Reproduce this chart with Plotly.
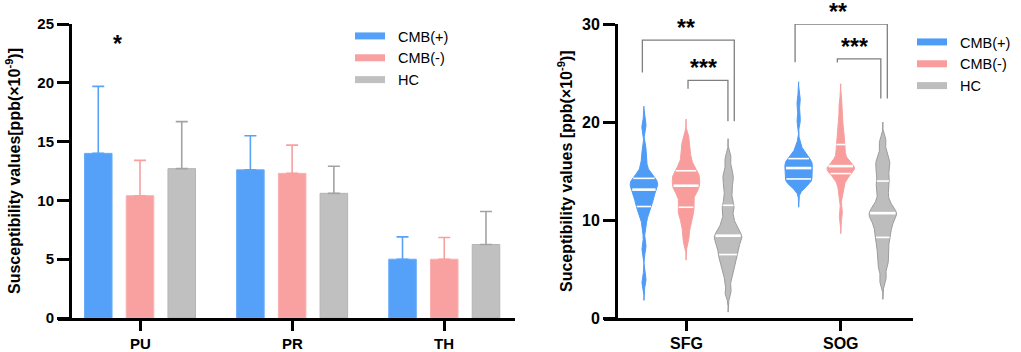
import numpy as np
import plotly.graph_objects as go

# ---------------- data ----------------
regions = ["PU", "PR", "TH"]
groups = ["CMB(+)", "CMB(-)", "HC"]
bar_mean = {
    "CMB(+)": [14.0, 12.6, 5.0],
    "CMB(-)": [10.4, 12.3, 5.0],
    "HC": [12.7, 10.6, 6.25],
}
bar_sd = {
    "CMB(+)": [5.7, 2.9, 1.9],
    "CMB(-)": [3.0, 2.4, 1.85],
    "HC": [4.0, 2.3, 2.8],
}

violin_regions = ["SFG", "SOG"]
sfg_cmb_pos = [3.8, 7.2, 9.2, 10.3, 10.9, 11.3, 11.6, 11.9, 12.2, 12.5, 12.8, 13.0,
               13.2, 13.4, 13.6, 13.8, 13.95, 14.1, 14.3, 14.6, 15.1, 16.0, 17.2, 19.6]
sfg_cmb_neg = [7.9, 9.0, 9.8, 10.4, 10.8, 11.2, 11.6, 12.1, 12.6, 12.9, 13.2, 13.4,
               13.6, 13.9, 14.1, 14.4, 14.6, 14.8, 15.1, 15.5, 16.0, 16.7, 17.5, 18.3]
sfg_hc = [2.6, 4.0, 4.9, 5.5, 6.0, 6.4, 6.7, 7.1, 7.5, 7.8, 8.1, 8.3,
          8.5, 8.8, 9.2, 9.7, 10.3, 11.2, 11.6, 12.6, 13.6, 14.3, 15.0, 16.3]
sog_cmb_pos = [13.3, 13.6, 13.8, 13.95, 14.05, 14.15, 14.3, 14.5, 14.7, 14.9, 15.1, 15.25,
               15.35, 15.55, 15.7, 15.85, 16.0, 16.15, 16.3, 16.5, 16.9, 17.6, 20.3, 22.1]
sog_cmb_neg = [10.6, 12.6, 13.5, 14.1, 14.45, 14.7, 14.85, 15.0, 15.15, 15.3, 15.4, 15.45,
               15.55, 15.7, 16.0, 16.4, 16.9, 17.4, 17.8, 18.2, 18.8, 19.6, 20.6, 21.9]
sog_hc = [3.9, 5.2, 5.9, 6.7, 7.4, 8.1, 8.6, 9.1, 9.6, 10.0, 10.3, 10.6,
          10.8, 11.1, 11.5, 12.1, 12.9, 13.6, 14.1, 14.9, 15.5, 16.0, 16.7, 18.0]
violin_data = {
    "CMB(+)": [sfg_cmb_pos, sog_cmb_pos],
    "CMB(-)": [sfg_cmb_neg, sog_cmb_neg],
    "HC": [sfg_hc, sog_hc],
}

# ---------------- style ----------------
FONT = "Liberation Sans, Arial, sans-serif"
W, H = 1021, 352
MT, MB = 24, 34
PH = H - MT - MB
YMAX1, YMAX2 = 25, 30
fill = {"CMB(+)": "#55a0f9", "CMB(-)": "#f9a0a0", "HC": "#c0c0c0"}
edge = {"CMB(+)": "#6aacf8", "CMB(-)": "#fbb0b0", "HC": "#b4b4b4"}
errc = {"CMB(+)": "#5aa2f6", "CMB(-)": "#f7a0a0", "HC": "#a3a3a3"}
vfill = {"CMB(+)": "#4f9cf6", "CMB(-)": "#f99c9c", "HC": "#bdbdbd"}
vline = {"CMB(+)": "#4f9cf6", "CMB(-)": "#f7a0a0", "HC": "#9c9c9c"}
BRK = "#7f7f7f"


def py(px):
    """pixel row -> paper y"""
    return (H - MB - px) / PH


fig = go.Figure()

# ---------------- left: bar chart ----------------
for g in groups:
    fig.add_trace(go.Bar(
        x=regions, y=bar_mean[g], name=g, showlegend=False,
        marker=dict(color=fill[g], line=dict(color=edge[g], width=1)),
        error_y=dict(type="data", array=bar_sd[g], arrayminus=[0] * len(regions),
                     symmetric=False, color=errc[g], thickness=1.6, width=6),
        xaxis="x", yaxis="y",
    ))

# ---------------- right: violins ----------------
BW = 0.5
EXT = 4 * BW
OFF = 0.272
HW = 0.089
offsets = {"CMB(+)": -OFF, "CMB(-)": 0.0, "HC": OFF}


def kde(vals, grid):
    v = np.asarray(vals)[None, :]
    z = (grid[:, None] - v) / BW
    return np.exp(-0.5 * z ** 2).sum(axis=1)


for g in groups:
    for ri, vals in enumerate(violin_data[g]):
        c = ri + offsets[g]
        grid = np.linspace(min(vals) - EXT, max(vals) + EXT, 500)
        d = kde(vals, grid)
        dmax = d.max()
        hw = HW * d / dmax
        xs = np.concatenate([c + hw, (c - hw)[::-1]])
        ys = np.concatenate([grid, grid[::-1]])
        fig.add_trace(go.Scatter(
            x=xs, y=ys, mode="lines", fill="toself", fillcolor=vfill[g],
            line=dict(color=vline[g], width=1), showlegend=False, hoverinfo="skip",
            xaxis="x2", yaxis="y2",
        ))
        qs = np.percentile(vals, [25, 50, 75], method="weibull")
        for qi, q in enumerate(qs):
            w = HW * kde(vals, np.array([q]))[0] / dmax * 0.93
            fig.add_trace(go.Scatter(
                x=[c - w, c + w], y=[q, q], mode="lines",
                line=dict(color="white", width=2.6 if qi == 1 else 1.6),
                showlegend=False, hoverinfo="skip", xaxis="x2", yaxis="y2",
            ))

# ---------------- significance brackets ----------------
def bracket(x0, x1, ytop, yl, yr, xa, ya):
    fig.add_trace(go.Scatter(
        x=[x0, x0, x1, x1], y=[yl, ytop, ytop, yr], mode="lines",
        line=dict(color=BRK, width=1.3), showlegend=False, hoverinfo="skip",
        cliponaxis=False, xaxis=xa, yaxis=ya,
    ))

bracket(-0.274, 0.0, 22.3, 20.25, 14.8, "x", "y")
bracket(-0.282, 0.312, 28.35, 25.06, 20.07, "x2", "y2")
bracket(0.013, 0.271, 24.25, 23.4, 20.07, "x2", "y2")
bracket(0.705, 1.301, 30.0, 26.1, 22.4, "x2", "y2")
bracket(0.978, 1.259, 26.45, 26.07, 22.4, "x2", "y2")

stars = [
    ("*", -0.145, 23.3 / YMAX1, "x"),
    ("**", 0.0, 29.6 / YMAX2, "x2"),
    ("***", 0.112, 25.5 / YMAX2, "x2"),
    ("**", 0.983, 31.2 / YMAX2, "x2"),
    ("***", 1.092, 27.7 / YMAX2, "x2"),
]
annotations = []
for t, sx, sy, xa in stars:
    annotations.append(dict(text="<b>" + t + "</b>", x=sx, y=sy, xref=xa, yref="paper",
                            showarrow=False, font=dict(family=FONT, size=23, color="black"),
                            xanchor="center", yanchor="middle"))

# x tick labels
for i, r in enumerate(regions):
    annotations.append(dict(text="<b>" + r + "</b>", x=i, y=py(343), xref="x", yref="paper",
                            showarrow=False, font=dict(family=FONT, size=15, color="black"),
                            xanchor="center", yanchor="middle"))
for i, r in enumerate(violin_regions):
    annotations.append(dict(text="<b>" + r + "</b>", x=i, y=py(343), xref="x2", yref="paper",
                            showarrow=False, font=dict(family=FONT, size=16, color="black"),
                            xanchor="center", yanchor="middle"))

# axis titles
annotations.append(dict(text="<b>Susceptibility values[ppb(×10<sup>-9</sup>)]</b>",
                        x=13 / W, y=0.5, xref="paper", yref="paper", textangle=-90,
                        showarrow=False, font=dict(family=FONT, size=16, color="black"),
                        xanchor="center", yanchor="middle"))
annotations.append(dict(text="<b>Suceptibility values [ppb(×10<sup>-9</sup>)]</b>",
                        x=565 / W, y=0.5, xref="paper", yref="paper", textangle=-90,
                        showarrow=False, font=dict(family=FONT, size=16, color="black"),
                        xanchor="center", yanchor="middle"))

# ---------------- legends ----------------
SP = "\u00a0\u00a0"
for g in groups:
    fig.add_trace(go.Scatter(x=[None], y=[None], mode="lines", name=SP + g,
                             line=dict(color=fill[g], width=7), legend="legend",
                             xaxis="x", yaxis="y"))
for g in groups:
    fig.add_trace(go.Scatter(x=[None], y=[None], mode="lines", name=SP + g,
                             line=dict(color=vfill[g], width=7), legend="legend2",
                             xaxis="x2", yaxis="y2"))

axis_common = dict(showline=True, linewidth=3, linecolor="black", ticks="outside",
                   tickwidth=3, tickcolor="black", showgrid=False, zeroline=False,
                   automargin=False)

fig.update_layout(
    width=W, height=H,
    margin=dict(l=0, r=0, t=MT, b=MB, autoexpand=False),
    paper_bgcolor="white", plot_bgcolor="white",
    barmode="group", bargap=0.177, bargroupgap=0.34,
    font=dict(family=FONT, color="black"),
    xaxis=dict(domain=[58 / W, 515 / W], range=[-0.539, 2.465], type="category",
               ticklen=10, showticklabels=False, anchor="y", **axis_common),
    yaxis=dict(anchor="free", position=70 / W, range=[0, YMAX1], dtick=5, ticklen=12,
               tickfont=dict(size=15, family=FONT, weight="bold"), **axis_common),
    xaxis2=dict(domain=[604 / W, 913 / W], range=[-0.530, 1.467], tickvals=[0, 1],
                ticktext=violin_regions, ticklen=10, showticklabels=False,
                anchor="y2", **axis_common),
    yaxis2=dict(anchor="free", position=616 / W, range=[0, YMAX2], dtick=10, ticklen=12,
                tickfont=dict(size=16, family=FONT, weight="bold"), **axis_common),
    legend=dict(x=350 / W, y=py(20), xanchor="left", yanchor="top",
                font=dict(family=FONT, size=14.5, color="black"), bgcolor="rgba(0,0,0,0)",
                tracegroupgap=0),
    legend2=dict(x=912 / W, y=py(26), xanchor="left", yanchor="top",
                 font=dict(family=FONT, size=14.5, color="black"), bgcolor="rgba(0,0,0,0)",
                 tracegroupgap=0),
    annotations=annotations,
    showlegend=True,
)

fig.write_html("out.html",
               config={"displayModeBar": False, "staticPlot": False},
               post_script="document.body.style.margin='0';document.body.style.padding='0';")
